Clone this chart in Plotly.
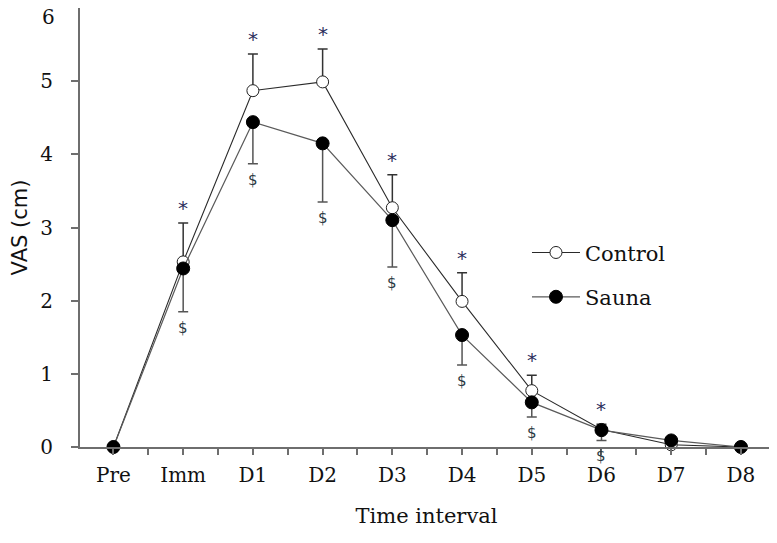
import plotly.graph_objects as go

categories = ["Pre", "Imm", "D1", "D2", "D3", "D4", "D5", "D6", "D7", "D8"]
control_mean = [0.0, 2.53, 4.87, 4.99, 3.27, 1.99, 0.77, 0.24, 0.03, 0.0]
control_err_up = [0, 0.53, 0.50, 0.45, 0.45, 0.39, 0.21, 0.07, 0, 0]
sauna_mean = [0.0, 2.44, 4.44, 4.15, 3.10, 1.53, 0.61, 0.23, 0.09, 0.0]
sauna_err_down = [0, 0.59, 0.57, 0.80, 0.64, 0.41, 0.20, 0.14, 0, 0]
star_points = [1, 2, 3, 4, 5, 6, 7]
dollar_points = [1, 2, 3, 4, 5, 6, 7]
y_ticks = [0, 1, 2, 3, 4, 5, 6]

x = list(range(len(categories)))
SERIF = "DejaVu Serif"

fig = go.Figure()
fig.add_trace(go.Scatter(
    x=x, y=control_mean, mode="lines+markers", name="Control",
    line=dict(color="#2a2a2a", width=1.1),
    marker=dict(symbol="circle", size=12, color="white", line=dict(color="#222222", width=1)),
    error_y=dict(type="data", symmetric=False, array=control_err_up, arrayminus=[0]*len(x),
                 color="#333333", thickness=1.5, width=5),
    cliponaxis=False, legendgroup="a", legendrank=1,
))
fig.add_trace(go.Scatter(
    x=x, y=sauna_mean, mode="lines+markers", name="Sauna",
    line=dict(color="#5a5a5a", width=1.2),
    marker=dict(symbol="circle", size=13, color="black", line=dict(color="black", width=1)),
    error_y=dict(type="data", symmetric=False, array=[0]*len(x), arrayminus=sauna_err_down,
                 color="#555555", thickness=1.5, width=5),
    cliponaxis=False, legendgroup="b", legendrank=2,
))

annotations = []
for i in star_points:
    annotations.append(dict(x=i, y=control_mean[i] + control_err_up[i], text="*",
                            showarrow=False, yanchor="middle", yshift=15,
                            font=dict(family="DejaVu Sans", size=20, color="#2d2d5c")))
for i in dollar_points:
    annotations.append(dict(x=i, y=sauna_mean[i] - sauna_err_down[i], text="$",
                            showarrow=False, yanchor="middle", yshift=-16,
                            font=dict(family="DejaVu Sans", size=15, color="#2b3a44")))
# top tick label drawn slightly below the axis end, as in the source figure
annotations.append(dict(xref="paper", x=0, y=y_ticks[-1], text=str(y_ticks[-1]), showarrow=False,
                        xanchor="right", yanchor="middle", xshift=-23, yshift=-9,
                        font=dict(family=SERIF, size=20, color="#111111")))

tickvals = [v / 2 for v in range(-1, 20)]
ticktext = [categories[int(v)] if v == int(v) and 0 <= v < len(categories) else "" for v in tickvals]

# page body has an 8px margin, so the figure is sized/margined to compensate
fig.update_layout(
    width=769, height=535,
    margin=dict(l=72, r=4, t=0, b=96),
    plot_bgcolor="white", paper_bgcolor="white",
    showlegend=True,
    legend=dict(x=0.645, y=0.489, xanchor="left", yanchor="top",
                font=dict(family=SERIF, size=21, color="#111111"),
                traceorder="grouped", tracegroupgap=14, itemwidth=48,
                bgcolor="rgba(0,0,0,0)"),
    annotations=annotations,
    xaxis=dict(
        range=[-0.48, 9.46], tickmode="array", tickvals=tickvals, ticktext=ticktext,
        showgrid=False, zeroline=False, showline=True, linecolor="#6e6e6e", linewidth=2,
        ticks="outside", ticklen=6, tickwidth=1.5, tickcolor="#6e6e6e",
        tickfont=dict(family=SERIF, size=20, color="#111111"), ticklabelstandoff=3,
        title=dict(text="Time interval", font=dict(family=SERIF, size=21, color="#111111"), standoff=22),
        automargin=False,
    ),
    yaxis=dict(
        range=[0, 6], tickmode="array", tickvals=y_ticks[:-1],
        showgrid=False, zeroline=False, showline=True, linecolor="#6e6e6e", linewidth=2,
        ticks="outside", ticklen=7, tickwidth=1.5, tickcolor="#6e6e6e",
        tickfont=dict(family=SERIF, size=20, color="#111111"), ticklabelstandoff=14,
        title=dict(text="VAS (cm)", font=dict(family="DejaVu Sans", size=21, color="#111111"), standoff=18),
        automargin=False,
    ),
)

fig.write_html("out.html")
